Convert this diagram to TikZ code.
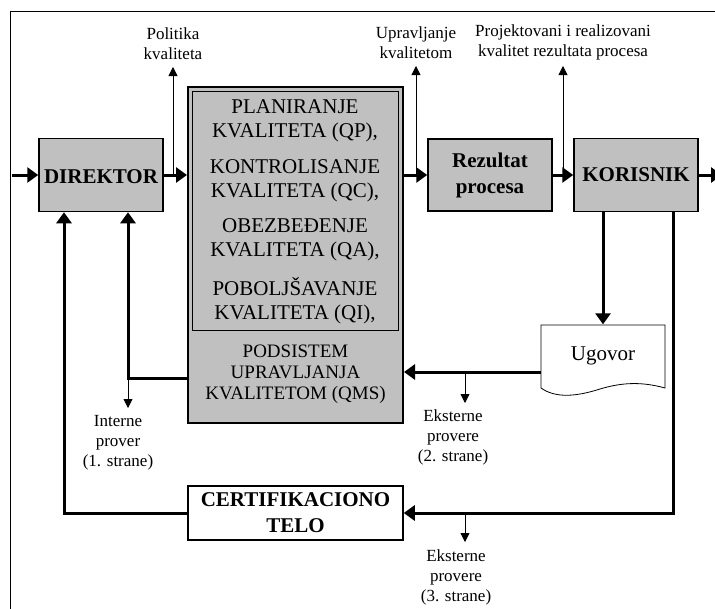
\documentclass[tikz,border=0pt]{standalone}
\usepackage{fontspec}
\setmainfont{Liberation Serif}
\usetikzlibrary{arrows.meta,calc}
\definecolor{boxgray}{HTML}{C0C0C0}
\tikzset{
  box/.style={draw, line width=1.5pt, fill=boxgray, inner sep=0pt, align=center,
    font=\bfseries\fontsize{21}{26}\selectfont},
  thickarrow/.style={line width=3pt, -{Triangle[length=11pt,width=15pt]}},
  thinarrow/.style={line width=0.8pt, -{Triangle[length=9pt,width=9pt]}},
  lbl/.style={align=center, font=\fontsize{17}{20}\selectfont, inner sep=0pt},
  qtext/.style={align=center, font=\fontsize{21}{24}\selectfont, inner sep=0pt},
}
\begin{document}
\begin{tikzpicture}[x=1pt,y=-1pt]
\useasboundingbox (0,0) rectangle (715,608);
\clip (0,0) rectangle (715,608);
\fill[white] (0,0) rectangle (715,608);
% frame
\draw[line width=0.8pt] (10,11) rectangle (760,660);

% boxes
\node[box, minimum width=124pt, minimum height=73pt] (direktor) at (101,175) {};
\node[font=\bfseries\fontsize{21}{26}\selectfont, inner sep=0pt] (direktortxt) at (101,177) {DIREKTOR};
\node[box, line width=2pt, minimum width=215pt, minimum height=336pt] (qms) at (295.5,255) {};
\node[draw, line width=0.8pt, inner sep=0pt, minimum width=206pt, minimum height=239pt] (qin) at (295,210.5) {};
\node[qtext] (t1) at (295,121) {PLANIRANJE\\KVALITETA (QP),};
\node[qtext] (t2) at (295,181) {KONTROLISANJE\\KVALITETA (QC),};
\node[qtext] (t3) at (295,240) {OBEZBEĐENJE\\KVALITETA (QA),};
\node[qtext] (t4) at (295,301) {POBOLJŠAVANJE\\KVALITETA (QI),};
\node[align=center, font=\fontsize{19}{21}\selectfont, inner sep=0pt] (t5) at (295.5,374) {PODSISTEM\\UPRAVLJANJA\\KVALITETOM (QMS)};
\node[box, minimum width=124pt, minimum height=72pt] (rez) at (490,175) {Rezultat\\procesa};
\node[box, minimum width=124pt, minimum height=73pt] (kor) at (636,175) {KORISNIK};
\node[box, fill=white, minimum width=215pt, minimum height=54pt] (cert) at (295.5,513) {CERTIFIKACIONO\\TELO};

% Ugovor document shape
\draw[line width=0.8pt, fill=white] (541,325) -- (665,325) -- (665,388)
  .. controls (640,381) and (620,383) .. (600,389)
  .. controls (575,397) and (555,398) .. (541,388) -- cycle;
\node[inner sep=0pt, minimum width=124pt, minimum height=63pt, font=\fontsize{21}{24}\selectfont] (ugovor) at (603,356) {Ugovor};

% coordinates
\coordinate (in) at (12,175);
\coordinate (out) at (722,175);
\coordinate (pk) at (173,67);
\coordinate (uk) at (416,66);
\coordinate (pr) at (563,66);
\coordinate (e2) at (465,372);
\coordinate (e2t) at (465,403);
\coordinate (i1) at (128,378);
\coordinate (i1t) at (128,408);
\coordinate (c3) at (673,513);
\coordinate (c1) at (64,513);
\coordinate (e3) at (465,513);
\coordinate (e3t) at (465,542);

% main line
\draw[thickarrow] (in) -- (in -| direktor.west);
\draw[thickarrow] (direktor.east) -- (direktor.east -| qms.west);
\draw[thickarrow] (qms.east |- rez.west) -- (rez.west);
\draw[thickarrow] (rez.east) -- (kor.west);
\draw[thickarrow] (kor.east) -- (out);

% upward thin arrows
\draw[thinarrow] (pk |- direktor.east) -- (pk);
\draw[thinarrow] (uk |- rez.west) -- (uk);
\draw[thinarrow] (pr |- kor.west) -- (pr);
\node[lbl, anchor=south] (lpk) at ([yshift=7pt]pk) {Politika\\kvaliteta};
\node[lbl, anchor=south] (luk) at ([yshift=7pt]uk) {Upravljanje\\kvalitetom};
\node[lbl, anchor=south] (lpr) at ([yshift=6pt]pr) {Projektovani i realizovani\\kvalitet rezultata procesa};

% korisnik to ugovor
\draw[thickarrow] (ugovor.north |- kor.south) -- (ugovor.north);
% ugovor to qms
\draw[thickarrow] (e2 -| ugovor.west) -- (e2 -| qms.east);
\draw[thinarrow] (e2) -- (e2t);
\node[lbl, anchor=north] (le2) at ([xshift=-12pt,yshift=-6pt]e2t) {Eksterne\\provere\\(2. strane)};

% korisnik to cert
\draw[thickarrow] (kor.south -| c3) -- (c3) -- (c3 -| cert.east);
\draw[thinarrow] (e3) -- (e3t);
\node[lbl, anchor=north] (le3) at ([xshift=-9pt,yshift=-7pt]e3t) {Eksterne\\provere\\(3. strane)};

% qms to direktor (internal)
\draw[thickarrow] (i1 -| qms.west) -- (i1) -- (i1 |- direktor.south);
\draw[thinarrow] (i1) -- (i1t);
\node[lbl, anchor=north] (li1) at ([xshift=-10pt,yshift=-7pt]i1t) {Interne\\prover\\(1. strane)};

% cert to direktor
\draw[thickarrow] (cert.west) -- (c1) -- (c1 |- direktor.south);
\end{tikzpicture}
\end{document}
